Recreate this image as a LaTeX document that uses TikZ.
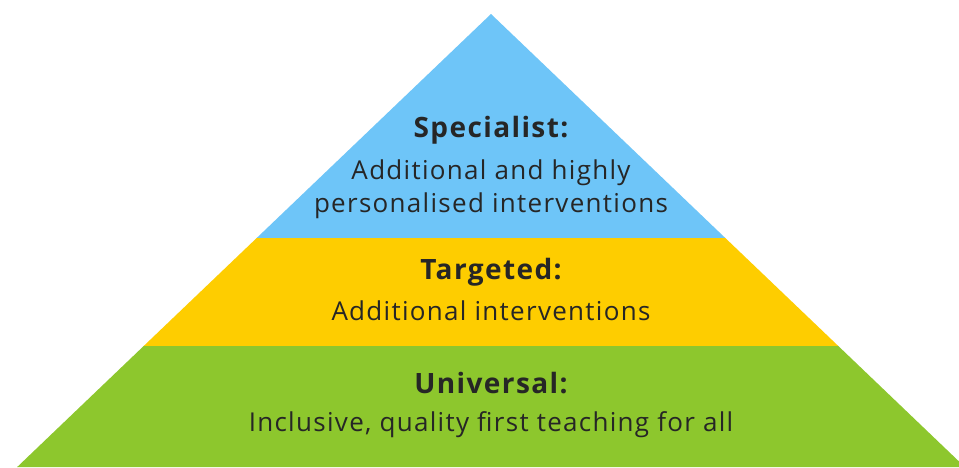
\documentclass[tikz,border=0pt]{standalone}
\usepackage{fontspec}
\setmainfont{Open Sans}
\newfontfamily\pyrfont[LetterSpace=5]{Open Sans}
\definecolor{tierblue}{RGB}{110,197,248}
\definecolor{tieryellow}{RGB}{254,205,0}
\definecolor{tiergreen}{RGB}{141,199,45}
\definecolor{inkdark}{RGB}{38,38,38}
\tikzset{
  tiertitle/.style={text=inkdark, font=\pyrfont\fontsize{28}{32}\selectfont\bfseries, inner sep=0pt, anchor=center},
  tiertext/.style={text=inkdark, font=\pyrfont\fontsize{26}{33}\selectfont, inner sep=0pt, anchor=center, align=center},
}
\begin{document}
\begin{tikzpicture}[x=1pt,y=-1pt]
\useasboundingbox (0,0) rectangle (959,467);
\clip (0,0) rectangle (959,467);
\fill[white] (0,0) rectangle (959,467);
% tiers
\fill[tierblue] (491,14) -- (725.3,238) -- (256.7,238) -- cycle;
\fill[tieryellow] (256.7,238) -- (725.3,238) -- (838.3,346) -- (143.7,346) -- cycle;
\fill[tiergreen] (143.7,346) -- (838.3,346) -- (964.8,467) -- (17.2,467) -- cycle;
% texts
\node[tiertitle] (spec) at (491,130) {Specialist:};
\node[tiertext] (spectxt) at (491,189) {Additional and highly\\personalised interventions};
\node[tiertitle] (targ) at (491,272) {Targeted:};
\node[tiertext] (targtxt) at (491,311) {Additional interventions};
\node[tiertitle] (univ) at (491,383) {Universal:};
\node[tiertext] (univtxt) at (491,425) {Inclusive, quality first teaching for all};
\end{tikzpicture}
\end{document}
